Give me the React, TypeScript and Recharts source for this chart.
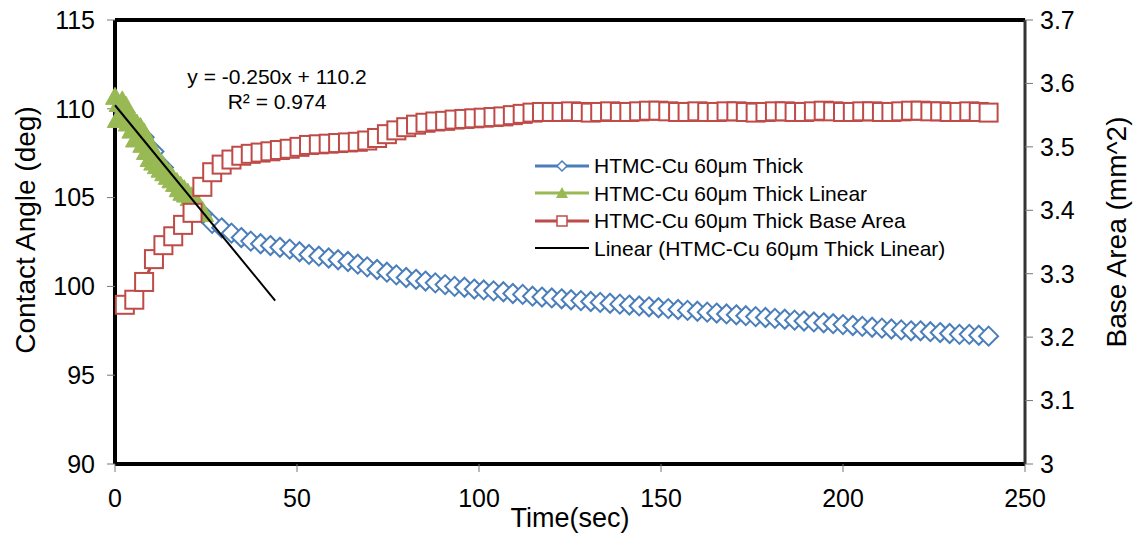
import React from "react";
import { ComposedChart, Line, XAxis, YAxis, ReferenceLine } from "recharts";

// sampling times (sec) shared by the contact-angle and base-area series
const timeSec = [
  2.7, 5.3, 8.0, 10.7, 13.3, 16.0, 18.7, 21.3, 24.0, 26.7,
  29.3, 32.0, 34.7, 37.3, 40.0, 42.7, 45.3, 48.0, 50.7, 53.3,
  56.0, 58.7, 61.3, 64.0, 66.7, 69.3, 72.0, 74.7, 77.3, 80.0,
  82.7, 85.3, 88.0, 90.7, 93.3, 96.0, 98.7, 101.3, 104.0, 106.7,
  109.3, 112.0, 114.7, 117.3, 120.0, 122.7, 125.3, 128.0, 130.7, 133.3,
  136.0, 138.7, 141.3, 144.0, 146.7, 149.3, 152.0, 154.7, 157.3, 160.0,
  162.7, 165.3, 168.0, 170.7, 173.3, 176.0, 178.7, 181.3, 184.0, 186.7,
  189.3, 192.0, 194.7, 197.3, 200.0, 202.7, 205.3, 208.0, 210.7, 213.3,
  216.0, 218.7, 221.3, 224.0, 226.7, 229.3, 232.0, 234.7, 237.3, 240.0,
];

const contactAngle = [
  109.8, 109.1, 108.4, 107.6, 106.7, 105.9, 105.3, 104.7, 104.1, 103.55,
  103.3, 103.0, 102.75, 102.55, 102.4, 102.3, 102.2, 102.1, 101.95, 101.8,
  101.7, 101.6, 101.5, 101.4, 101.25, 101.1, 100.95, 100.8, 100.65, 100.5,
  100.4, 100.3, 100.2, 100.1, 100.0, 99.95, 99.85, 99.8, 99.75, 99.7,
  99.6, 99.55, 99.45, 99.4, 99.35, 99.3, 99.25, 99.2, 99.15, 99.1,
  99.05, 99.0, 98.95, 98.9, 98.85, 98.8, 98.75, 98.7, 98.65, 98.6,
  98.55, 98.5, 98.45, 98.4, 98.35, 98.3, 98.25, 98.2, 98.15, 98.1,
  98.05, 98.0, 97.95, 97.9, 97.85, 97.8, 97.75, 97.7, 97.65, 97.6,
  97.55, 97.5, 97.5, 97.45, 97.4, 97.35, 97.3, 97.3, 97.25, 97.2,
];

const baseArea = [
  3.251, 3.259, 3.287, 3.323, 3.345, 3.359, 3.377, 3.396, 3.437, 3.46,
  3.472, 3.48, 3.486, 3.489, 3.491, 3.493, 3.495, 3.497, 3.5, 3.503,
  3.504, 3.505, 3.506, 3.507, 3.508, 3.51, 3.514, 3.52, 3.526, 3.531,
  3.535, 3.538, 3.54, 3.541, 3.543, 3.544, 3.545, 3.546, 3.547, 3.548,
  3.55, 3.552, 3.554, 3.555, 3.555, 3.555, 3.556, 3.555, 3.554, 3.555,
  3.556, 3.555, 3.555, 3.556, 3.557, 3.557, 3.556, 3.555, 3.555, 3.556,
  3.555, 3.555, 3.556, 3.556, 3.555, 3.554, 3.555, 3.556, 3.556, 3.555,
  3.555, 3.556, 3.557, 3.556, 3.555, 3.555, 3.556, 3.556, 3.555, 3.555,
  3.556, 3.557, 3.557, 3.556, 3.556, 3.555, 3.555, 3.556, 3.555, 3.554,
];

// dense early samples used for the linear fit
const linearTime = [
  0, 0.5, 1, 1.5, 2, 2.5, 3, 3.5, 4, 4.5,
  5, 5.5, 6, 6.5, 7, 7.5, 8, 8.5, 9, 9.5,
  10, 10.5, 11, 11.5, 12, 12.5, 13, 13.5, 14, 14.5,
  15, 15.5, 16, 16.5, 17, 17.5, 18, 18.5, 19, 19.5,
  20, 20.5, 21, 21.5, 22, 22.5, 23, 23.5, 24, 24.5,
];
const linearAngle = [
  110.7, 109.4, 110.3, 109.6, 110.5, 109.8, 110.2, 109.2, 109.7, 108.8,
  109.4, 108.3, 109.2, 108.4, 109.0, 108.0, 108.7, 107.6, 108.3, 107.2,
  107.9, 107.0, 107.4, 106.8, 107.1, 106.6, 106.9, 106.4, 106.6, 106.2,
  106.4, 106.0, 106.1, 105.8, 105.9, 105.5, 105.7, 105.3, 105.5, 105.2,
  105.3, 105.0, 105.1, 104.9, 104.8, 104.6, 104.6, 104.4, 104.3, 104.1,
];

// trendline y = -0.250x + 110.2, drawn forward to ~44 s
const trendTime = [0, 44];
const trendAngle = [110.2, 99.2];

const xTicks = [0, 50, 100, 150, 200, 250];
const leftTicks = [90, 95, 100, 105, 110, 115];
const rightTicks = [3, 3.1, 3.2, 3.3, 3.4, 3.5, 3.6, 3.7];

const BLUE = "#4A7EBB";
const GREEN = "#98B954";
const RED = "#BE4B48";

const angleData = timeSec.map((t, i) => ({ t, v: contactAngle[i] }));
const areaData = timeSec.map((t, i) => ({ t, v: baseArea[i] }));
const linearData = linearTime.map((t, i) => ({ t, v: linearAngle[i] }));
const trendData = trendTime.map((t, i) => ({ t, v: trendAngle[i] }));

const diamondDot = (p: any) => {
  const { cx, cy, index } = p;
  if (cx == null || cy == null) return <g key={`dm-${index}`} />;
  const r = 9.5;
  return (
    <path
      key={`dm-${index}`}
      d={`M${cx},${cy - r}L${cx + r},${cy}L${cx},${cy + r}L${cx - r},${cy}Z`}
      fill="#fff"
      stroke={BLUE}
      strokeWidth={2}
    />
  );
};

const triangleDot = (p: any) => {
  const { cx, cy, index } = p;
  if (cx == null || cy == null) return <g key={`tr-${index}`} />;
  return (
    <path
      key={`tr-${index}`}
      d={`M${cx},${cy - 9}L${cx + 9.5},${cy + 8}L${cx - 9.5},${cy + 8}Z`}
      fill={GREEN}
      stroke={GREEN}
      strokeWidth={1}
    />
  );
};

const squareDot = (p: any) => {
  const { cx, cy, index } = p;
  if (cx == null || cy == null) return <g key={`sq-${index}`} />;
  return (
    <rect
      key={`sq-${index}`}
      x={cx - 9}
      y={cy - 9}
      width={18}
      height={18}
      fill="#fff"
      stroke={RED}
      strokeWidth={2}
    />
  );
};

const legendItems = [
  { name: "HTMC-Cu 60μm Thick", color: BLUE, marker: "diamond" },
  { name: "HTMC-Cu 60μm Thick Linear", color: GREEN, marker: "triangle" },
  { name: "HTMC-Cu 60μm Thick Base Area", color: RED, marker: "square" },
  { name: "Linear (HTMC-Cu 60μm Thick Linear)", color: "#000", marker: "none" },
];

function LegendMarker({ color, marker }: { color: string; marker: string }) {
  return (
    <svg width={54} height={14} style={{ display: "block" }}>
      <line x1={0} y1={7} x2={54} y2={7} stroke={color} strokeWidth={marker === "none" ? 2 : 3} />
      {marker === "diamond" && <path d="M27,2L32,7L27,12L22,7Z" fill="#fff" stroke={color} strokeWidth={1.5} />}
      {marker === "triangle" && <path d="M27,1L33,12L21,12Z" fill={color} />}
      {marker === "square" && <rect x={22} y={2} width={10} height={10} fill="#fff" stroke={color} strokeWidth={1.5} />}
    </svg>
  );
}

export default function App() {
  return (
    <div
      style={{
        position: "absolute",
        left: 0,
        top: 0,
        width: 1135,
        height: 536,
        background: "#fff",
        fontFamily: "'Liberation Sans', Arial, sans-serif",
        color: "#000",
      }}
    >
      <ComposedChart width={1135} height={536} margin={{ top: 20, right: 30, bottom: 32, left: 35 }}>
        <XAxis
          type="number"
          dataKey="t"
          domain={[0, 250]}
          ticks={xTicks}
          tick={{ fontSize: 25, fill: "#000" }}
          tickLine={{ stroke: "#777" }}
          tickSize={8}
          tickMargin={17}
          axisLine={{ stroke: "#000", strokeWidth: 4 }}
          height={40}
        />
        <YAxis
          yAxisId="left"
          type="number"
          domain={[90, 115]}
          ticks={leftTicks}
          tick={{ fontSize: 25, fill: "#000" }}
          tickLine={{ stroke: "#777" }}
          tickSize={8}
          tickMargin={12}
          axisLine={{ stroke: "#000", strokeWidth: 4 }}
          width={80}
        />
        <YAxis
          yAxisId="right"
          orientation="right"
          type="number"
          domain={[3, 3.7]}
          ticks={rightTicks}
          tick={{ fontSize: 25, fill: "#000" }}
          tickLine={{ stroke: "#777" }}
          tickSize={8}
          tickMargin={7}
          axisLine={{ stroke: "#333", strokeWidth: 3 }}
          width={80}
        />
        <ReferenceLine yAxisId="left" y={115} stroke="#000" strokeWidth={4} />
        <Line
          yAxisId="left"
          data={angleData}
          dataKey="v"
          stroke={BLUE}
          strokeWidth={3}
          dot={diamondDot}
          activeDot={false}
          isAnimationActive={false}
        />
        <Line
          yAxisId="left"
          data={linearData}
          dataKey="v"
          stroke={GREEN}
          strokeWidth={3}
          dot={triangleDot}
          activeDot={false}
          isAnimationActive={false}
        />
        <Line
          yAxisId="right"
          data={areaData}
          dataKey="v"
          stroke={RED}
          strokeWidth={3}
          dot={squareDot}
          activeDot={false}
          isAnimationActive={false}
        />
        <Line
          yAxisId="left"
          data={trendData}
          dataKey="v"
          stroke="#000"
          strokeWidth={2}
          dot={false}
          activeDot={false}
          isAnimationActive={false}
          {...({ zIndex: 2000 } as any)}
        />
      </ComposedChart>

      {/* trendline equation */}
      <div
        style={{
          position: "absolute",
          left: 177,
          top: 64,
          width: 200,
          textAlign: "center",
          fontSize: 21,
          lineHeight: "25px",
        }}
      >
        <div>y = -0.250x + 110.2</div>
        <div>R² = 0.974</div>
      </div>

      {/* legend */}
      <div style={{ position: "absolute", left: 535, top: 152, fontSize: 21, lineHeight: "27.5px" }}>
        {legendItems.map((item) => (
          <div key={item.name} style={{ display: "flex", alignItems: "center", gap: 5 }}>
            <LegendMarker color={item.color} marker={item.marker} />
            <span>{item.name}</span>
          </div>
        ))}
      </div>

      {/* axis titles */}
      <div
        style={{
          position: "absolute",
          left: 26,
          top: 230,
          transform: "translate(-50%, -50%) rotate(-90deg)",
          whiteSpace: "nowrap",
          fontSize: 28,
        }}
      >
        Contact Angle (deg)
      </div>
      <div
        style={{
          position: "absolute",
          left: 1117,
          top: 232,
          transform: "translate(-50%, -50%) rotate(-90deg)",
          whiteSpace: "nowrap",
          fontSize: 28,
        }}
      >
        Base Area (mm^2)
      </div>
      <div
        style={{
          position: "absolute",
          left: 570,
          top: 518,
          transform: "translate(-50%, -50%)",
          whiteSpace: "nowrap",
          fontSize: 27,
        }}
      >
        Time(sec)
      </div>
    </div>
  );
}
